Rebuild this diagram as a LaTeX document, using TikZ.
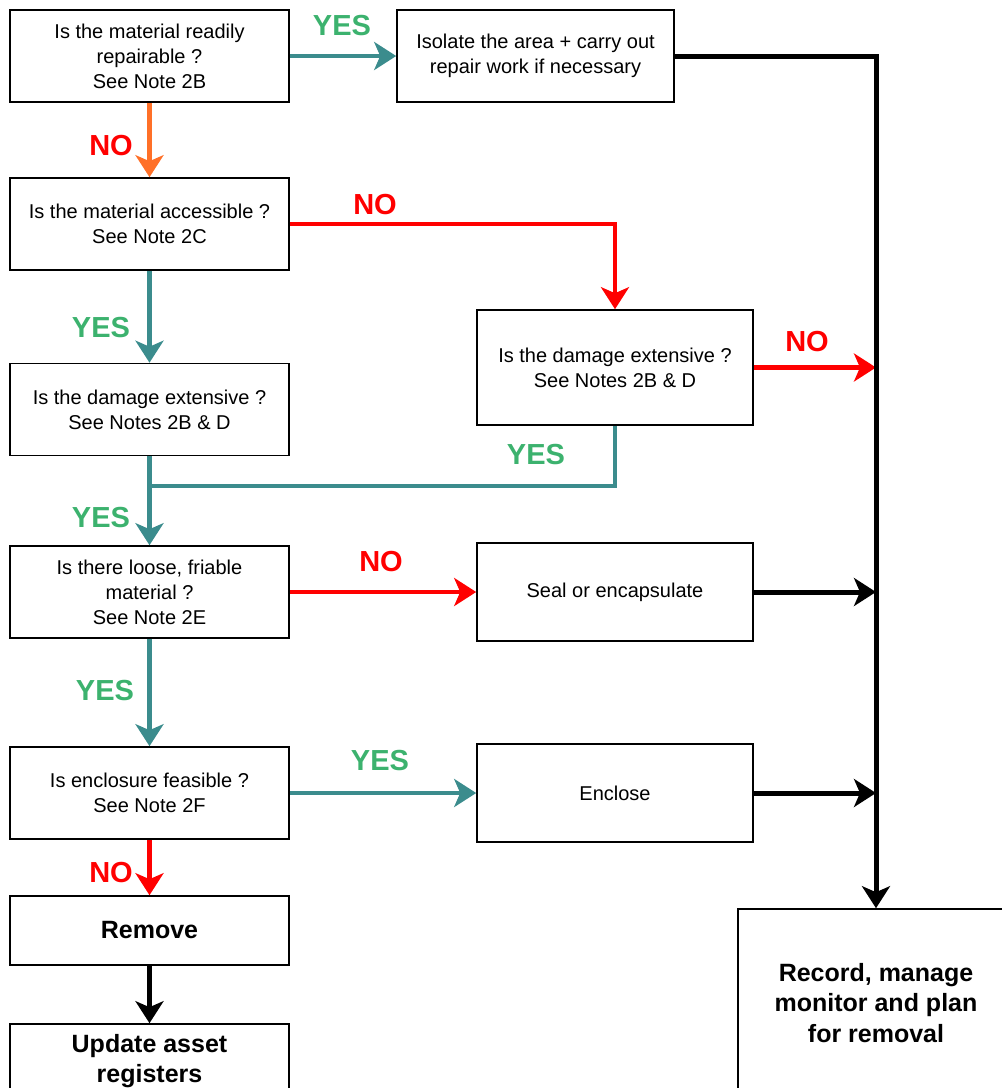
\documentclass[tikz,border=0pt]{standalone}
\usepackage{fontspec}
\setmainfont{Liberation Sans}
\usetikzlibrary{arrows.meta}

\definecolor{yesline}{RGB}{59,140,141}
\definecolor{yestext}{RGB}{60,178,110}
\definecolor{noline}{RGB}{255,0,0}
\definecolor{firstno}{RGB}{255,112,40}

\begin{document}
\begin{tikzpicture}[x=1pt,y=-1pt,>={Stealth[length=22pt,width=28pt,inset=6pt]}]
        \tikzstyle{box}=[draw,line width=1.6pt,inner sep=2pt,align=center,font=\fontsize{20}{25}\selectfont]
        \tikzstyle{question}=[box,minimum width=279pt,minimum height=92pt]
        \tikzstyle{action}=[box,minimum width=276pt,minimum height=98pt]
        \tikzstyle{final}=[box,font=\bfseries\fontsize{25}{30.5}\selectfont]
        \tikzstyle{yes}=[line width=4.5pt,draw=yesline]
        \tikzstyle{no}=[line width=4.5pt,draw=noline]
        \tikzstyle{done}=[line width=5pt,draw=black]
        \tikzstyle{answer}=[font=\bfseries\fontsize{29}{29}\selectfont,inner sep=0pt]

        \useasboundingbox (0,0) rectangle (1002,1088);
        \clip (0,0) rectangle (1002,1088);

        % questions down the left
        \foreach \name/\y/\text in {A/56/{Is the material readily\\repairable ?\\See Note 2B},
                                    C/224/{Is the material accessible ?\\See Note 2C},
                                    E/409.5/{Is the damage extensive ?\\See Notes 2B \& D},
                                    F/592/{Is there loose, friable\\material ?\\See Note 2E},
                                    H/793/{Is enclosure feasible ?\\See Note 2F}}
          \node[question] (\name) at (149.5,\y) {\text};

        \node[box,minimum width=277pt,minimum height=92pt] (B) at (535.5,56) {Isolate the area + carry out\\repair work if necessary};
        \node[box,minimum width=276pt,minimum height=115pt] (D) at (615,367.5) {Is the damage extensive ?\\See Notes 2B \& D};
        \node[action] (G) at (615,592) {Seal or encapsulate};
        \node[action] (I) at (615,793) {Enclose};
        \node[final,minimum width=279pt,minimum height=69pt] (J) at (149.5,930.5) {Remove};
        \node[final,minimum width=279pt,minimum height=74pt] (K) at (149.5,1061) {Update asset\\registers};
        \node[final,minimum width=276pt,minimum height=188pt] (L) at (876,1003) {Record, manage\\monitor and plan\\for removal};
        \coordinate (join) at (149.5,486);

        % answers
        \foreach \name/\x/\y/\word/\col in {yA/342/26/YES/yestext, nA/111/146/NO/noline,
                                            nC/375/205/NO/noline, yC/101/328/YES/yestext,
                                            nD/807/342/NO/noline, yD/536/455/YES/yestext,
                                            yE/101/518/YES/yestext, nF/381/562/NO/noline,
                                            yF/105/691/YES/yestext, yH/380/761/YES/yestext,
                                            nH/111/873/NO/noline}
          \node[answer,text=\col] (\name) at (\x,\y) {\word};

        \foreach \from/\to in {A.east/B.west, C.south/E.north, E.south/F.north,
                               F.south/H.north, H.east/I.west}
          { \draw[yes,->] (\from) -- (\to); }
        \draw[yes] (D.south) |- (join);

        \draw[line width=4.5pt,draw=firstno,->] (A.south) -- (C.north);
        \draw[no,->] (C.east) -| (D.north);
        \draw[no,->] (D.east) -- (D.east -| L.north);
        \draw[no,->] (F.east) -- (G.west);
        \draw[no,->] (H.south) -- (J.north);

        \draw[done,->] (B.east) -| (L.north);
        \draw[done,->] (G.east) -- (G.east -| L.north);
        \draw[done,->] (I.east) -- (I.east -| L.north);
        \draw[done,->] (J.south) -- (K.north);
      \end{tikzpicture}
\end{document}
